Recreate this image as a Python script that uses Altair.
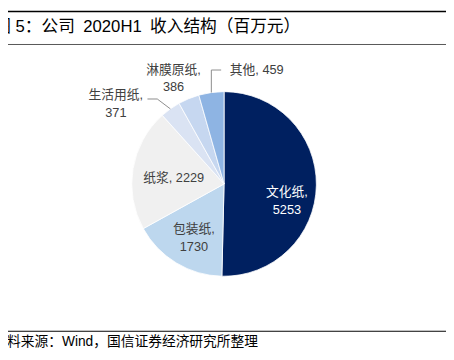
import altair as alt
import pandas as pd

# ---- data ----
categories = ["文化纸", "包装纸", "纸浆", "生活用纸", "淋膜原纸", "其他"]
values = [5253, 1730, 2229, 371, 386, 459]
two_line = [True, True, False, True, True, False]
colors = ["#002060", "#BDD7EE", "#F0F0F0", "#DAE3F3", "#C6D7F0", "#8EB4E3"]

title_text = "图 5：公司\u20022020H1\u2002收入结构（百万元）"
source_text = "资料来源：Wind，国信证券经济研究所整理"

labels = [f"{c},\n{v}" if t else f"{c}, {v}" for c, v, t in zip(categories, values, two_line)]
df = pd.DataFrame({"cat": categories, "value": values, "idx": list(range(len(categories))), "label": labels})

FONT = "Liberation Sans, Arial, Noto Sans CJK SC"
CX, CY, R = 220, 176, 94

base = alt.Chart(df).encode(
    theta=alt.Theta("value:Q", stack=True),
    order=alt.Order("idx:Q"),
    x=alt.value(CX),
    y=alt.value(CY),
)

arc = base.mark_arc(outerRadius=R, stroke="white", strokeWidth=0.8).encode(
    color=alt.Color("cat:N", scale=alt.Scale(domain=categories, range=colors), legend=None)
)


def lab(cat, r, dx, dy, color="#404040", align="center"):
    return base.mark_text(
        radius=r, dx=dx, dy=dy, align=align, baseline="middle", lineBreak="\n",
        lineHeight=18, fontSize=13, font=FONT, color=color,
    ).encode(text=alt.condition(alt.datum.cat == cat, "label:N", alt.value("")))


labels_layers = [
    lab("文化纸", 64, 0, 8, color="white"),
    lab("包装纸", 63, 2, -8),
    lab("纸浆", 52, 0, 3),
    lab("生活用纸", 100, -52, -9),
    lab("淋膜原纸", 116, -7, -9),
    lab("其他", 117, 22, 0, align="left"),
]

# leader lines derived from slice mid-angles
lead = (
    alt.Chart(df)
    .transform_joinaggregate(total="sum(value)")
    .transform_window(cum="sum(value)", sort=[alt.SortField("idx")], frame=[None, 0])
    .transform_calculate(
        mid="(datum.cum - datum.value/2)/datum.total*2*PI",
        ex=f"{CX} + {R}*sin(datum.mid)",
        ey=f"{CY} - {R}*cos(datum.mid)",
        ex2=f"{CX} + {R}*sin(datum.mid) + 10",
    )
)
LC = "#8C8C8C"
lead_other_v = lead.transform_filter(alt.datum.cat == "其他").mark_rule(color=LC, strokeWidth=1).encode(
    x=alt.X("ex:Q", scale=None), y=alt.Y("ey:Q", scale=None), y2=alt.value(60)
)
lead_other_h = lead.transform_filter(alt.datum.cat == "其他").mark_rule(color=LC, strokeWidth=1).encode(
    x=alt.X("ex:Q", scale=None), x2=alt.X2("ex2:Q"), y=alt.value(60)
)
lead_life_d = lead.transform_filter(alt.datum.cat == "生活用纸").mark_rule(color=LC, strokeWidth=1).encode(
    x=alt.X("ex:Q", scale=None), y=alt.Y("ey:Q", scale=None), x2=alt.value(152), y2=alt.value(89.5)
)
lead_life_h = lead.transform_filter(alt.datum.cat == "生活用纸").mark_rule(color=LC, strokeWidth=1).encode(
    x=alt.value(142), x2=alt.value(152), y=alt.value(89.5)
)

# title and source
one = pd.DataFrame({"t": [title_text]})
src = pd.DataFrame({"t": [source_text]})
title = alt.Chart(one).mark_text(align="left", baseline="middle", fontSize=17, font=FONT, color="black").encode(
    text="t:N", x=alt.value(-14), y=alt.value(16.5)
)
rule_top = alt.Chart(one).mark_rule(color="black", strokeWidth=1.5).encode(
    x=alt.value(0), x2=alt.value(446), y=alt.value(0.5)
)
rule_title = alt.Chart(one).mark_rule(color="#555555", strokeWidth=1).encode(
    x=alt.value(0), x2=alt.value(446), y=alt.value(34)
)
rule_src = alt.Chart(src).mark_rule(color="black", strokeWidth=1).encode(
    x=alt.value(0), x2=alt.value(446), y=alt.value(326)
)
source = alt.Chart(src).mark_text(align="left", baseline="middle", fontSize=14, font=FONT, color="black").encode(
    text="t:N", x=alt.value(-15), y=alt.value(337)
)

chart = alt.layer(
    arc, *labels_layers, lead_other_v, lead_other_h, lead_life_d, lead_life_h,
    title, rule_top, rule_title, rule_src, source,
).properties(
    width=446, height=346, padding=0, autosize="none", background="white"
).configure_view(stroke=None)

chart.save("out.html", embed_options={"renderer": "svg", "actions": False})
